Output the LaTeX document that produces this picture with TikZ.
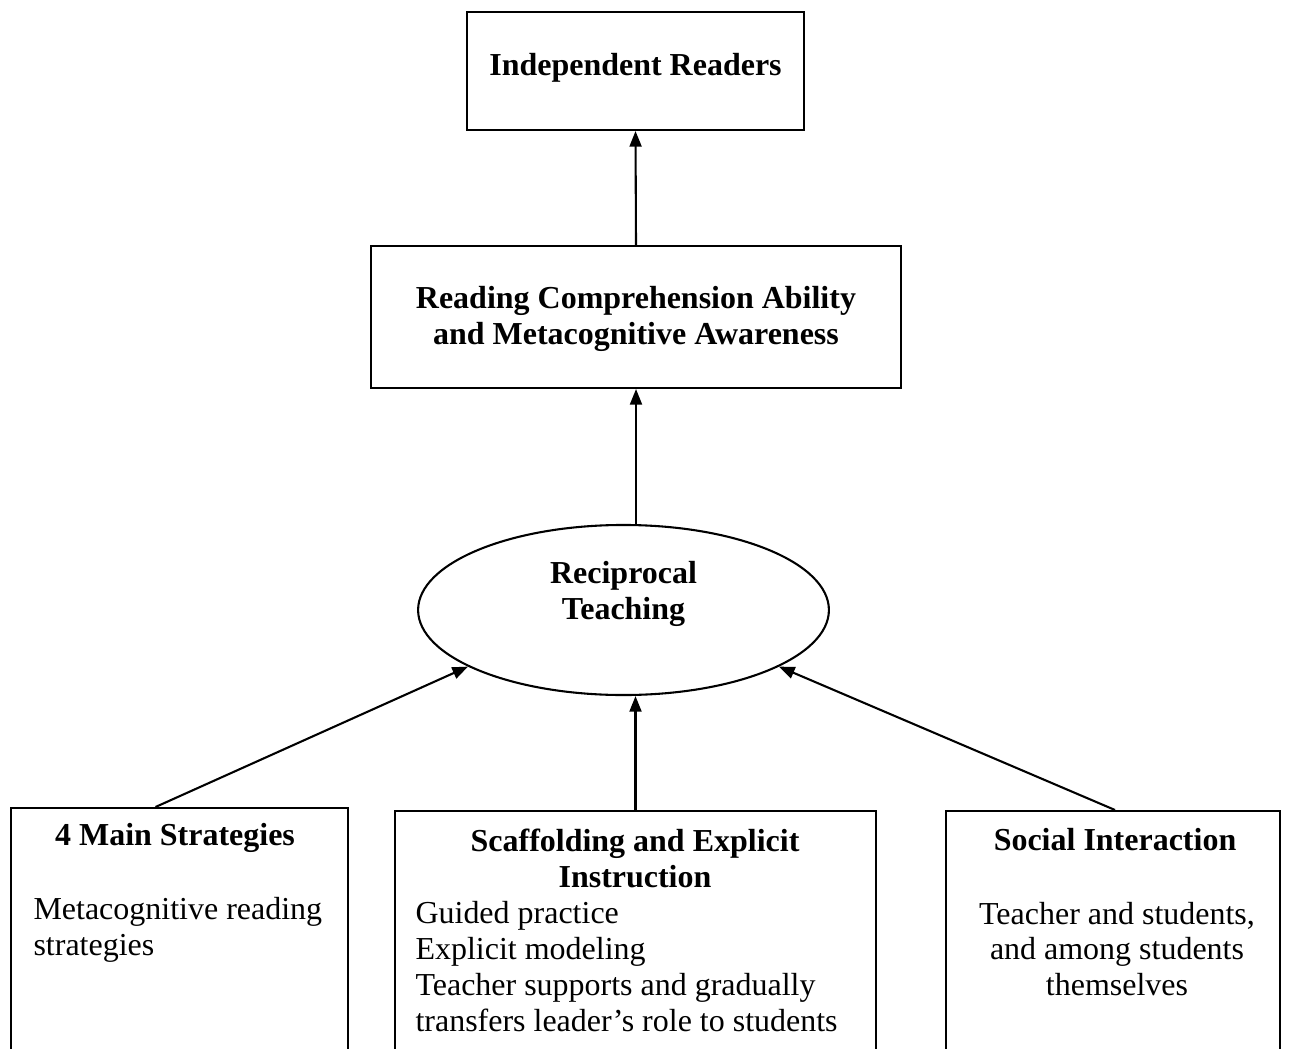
\documentclass[tikz,border=0pt]{standalone}
\usepackage{fontspec}
\setmainfont{Liberation Serif}
\usepackage{tikz}
\usetikzlibrary{shapes.geometric, arrows.meta, positioning, calc}

\begin{document}
\begin{tikzpicture}[
    x=0.3846pt, y=-0.3846pt,
    box/.style={draw, line width=0.8pt, inner sep=0pt},
    head/.style={font=\fontsize{12.3}{13.8}\selectfont\bfseries, inner sep=0pt, align=center},
    body/.style={font=\fontsize{12.3}{13.8}\selectfont, inner sep=0pt},
    arr/.style={-{Triangle[length=6pt, width=4.6pt]}, line width=0.8pt}
  ]
  \useasboundingbox (0,0) rectangle (1289,1048);
  \clip (0,0) rectangle (1289,1048);

  % Top boxes
  \node[box, minimum width=129.6pt, minimum height=45.4pt] (ind) at (635.5,71) {};
  \node[head] (indtxt) at (635.5,68) {Independent Readers};

  \node[box, minimum width=203.8pt, minimum height=54.6pt] (rca) at (636,317) {};
  \node[head] (rcatxt) at (636,319)
    {Reading Comprehension Ability\\and Metacognitive Awareness};

  % Ellipse
  \node[box, ellipse, minimum width=158pt, minimum height=65.4pt] (rt) at (623.5,610) {};
  \node[head] (rttxt) at (623.5,594) {Reciprocal\\Teaching};

  % Bottom boxes (cut by the page edge)
  \node[box, anchor=north, minimum width=129.6pt, minimum height=115pt] (sm) at (179.5,807) {};
  \node[head] (smtitle) at (175,838) {4 Main Strategies};
  \node[body, anchor=west, align=left] (smbody) at (33,930) {Metacognitive reading\\strategies};

  \node[box, anchor=north, minimum width=185pt, minimum height=115pt] (sc) at (635.5,810) {};
  \node[head] (sctitle) at (635,858.5) {Scaffolding and Explicit\\Instruction};
  \node[body, anchor=west, align=left] (scbody) at (415,966.5)
    {Guided practice\\Explicit modeling\\Teacher supports and gradually\\transfers leader’s role to students};

  \node[box, anchor=north, minimum width=128.5pt, minimum height=115pt] (si) at (1113,810) {};
  \node[head] (sititle) at (1115,840) {Social Interaction};
  \node[body, align=center] (sibody) at (1117,949)
    {Teacher and students,\\and among students\\themselves};

  % Arrows
  \draw[arr] (rca.north) -- (ind.south);
  \draw[arr] (rt.north -| rca.south) -- (rca.south);
  \draw[arr] ($(sm.north)+(-24,0)$) -- (rt.200);
  \draw[arr] (sc.north) -- (sc.north |- rt.south);
  \draw[arr] ($(si.north)+(2,0)$) -- (rt.-20);

\end{tikzpicture}
\end{document}
